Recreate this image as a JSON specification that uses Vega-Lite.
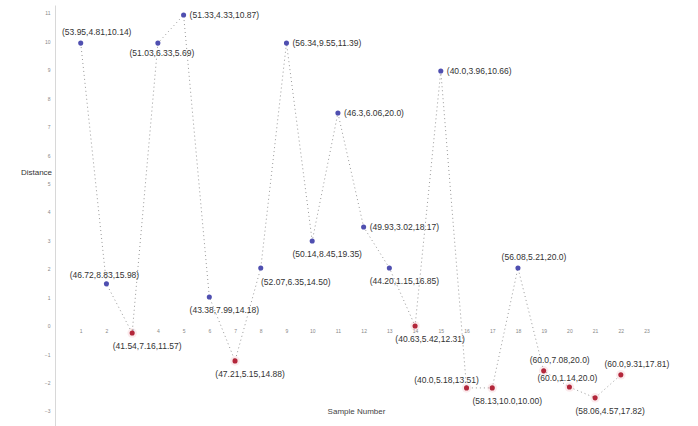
{
  "$schema": "https://vega.github.io/schema/vega-lite/v6.json",
  "autosize": {"type": "none"},
  "padding": {"left": 55, "top": 5, "right": 0, "bottom": 0},
  "width": 643,
  "height": 421,
  "background": "white",
  "config": {"view": {"stroke": null}, "font": "Liberation Sans"},
  "data": {"values": [
    {"sample": 1, "distance": 9.94, "label": "(53.95,4.81,10.14)", "group": "blue"},
    {"sample": 2, "distance": 1.47, "label": "(46.72,8.83,15.98)", "group": "blue"},
    {"sample": 3, "distance": -0.26, "label": "(41.54,7.16,11.57)", "group": "red"},
    {"sample": 4, "distance": 9.94, "label": "(51.03,6.33,5.69)", "group": "blue"},
    {"sample": 5, "distance": 10.93, "label": "(51.33,4.33,10.87)", "group": "blue"},
    {"sample": 6, "distance": 1.01, "label": "(43.38,7.99,14.18)", "group": "blue"},
    {"sample": 7, "distance": -1.24, "label": "(47.21,5.15,14.88)", "group": "red"},
    {"sample": 8, "distance": 2.03, "label": "(52.07,6.35,14.50)", "group": "blue"},
    {"sample": 9, "distance": 9.94, "label": "(56.34,9.55,11.39)", "group": "blue"},
    {"sample": 10, "distance": 2.98, "label": "(50.14,8.45,19.35)", "group": "blue"},
    {"sample": 11, "distance": 7.48, "label": "(46.3,6.06,20.0)", "group": "blue"},
    {"sample": 12, "distance": 3.47, "label": "(49.93,3.02,18.17)", "group": "blue"},
    {"sample": 13, "distance": 2.03, "label": "(44.20,1.15,16.85)", "group": "blue"},
    {"sample": 14, "distance": -0.01, "label": "(40.63,5.42,12.31)", "group": "red"},
    {"sample": 15, "distance": 8.96, "label": "(40.0,3.96,10.66)", "group": "blue"},
    {"sample": 16, "distance": -2.19, "label": "(40.0,5.18,13.51)", "group": "red"},
    {"sample": 17, "distance": -2.19, "label": "(58.13,10.0,10.00)", "group": "red"},
    {"sample": 18, "distance": 2.03, "label": "(56.08,5.21,20.0)", "group": "blue"},
    {"sample": 19, "distance": -1.59, "label": "(60.0,7.08,20.0)", "group": "red"},
    {"sample": 20, "distance": -2.16, "label": "(60.0,1.14,20.0)", "group": "red"},
    {"sample": 21, "distance": -2.54, "label": "(58.06,4.57,17.82)", "group": "red"},
    {"sample": 22, "distance": -1.73, "label": "(60.0,9.31,17.81)", "group": "red"}
  ]},
  "encoding": {
    "x": {
      "field": "sample", "type": "quantitative",
      "scale": {"domain": [0, 25], "nice": false, "zero": false},
      "axis": {
        "orient": "bottom", "offset": -100, "values": [1,2,3,4,5,6,7,8,9,10,11,12,13,14,15,16,17,18,19,20,21,22,23],
        "domain": false, "ticks": false, "grid": false,
        "labelFontSize": 5, "labelColor": "#888", "labelPadding": 2,
        "title": "Sample Number", "titleFontSize": 8, "titleFontWeight": "normal", "titleColor": "#444",
        "titleX": 301, "titleY": 85, "titleBaseline": "middle", "titleAlign": "center"
      }
    },
    "y": {
      "field": "distance", "type": "quantitative",
      "scale": {"domain": [-3.53, 11.28], "nice": false, "zero": false},
      "axis": {
        "values": [-3,-2,-1,0,1,2,3,4,5,6,7,8,9,10,11],
        "domain": true, "domainColor": "#d8d8d8", "ticks": false, "grid": false,
        "labelFontSize": 5, "labelColor": "#888", "labelPadding": 5,
        "title": "Distance", "titleAngle": 0, "titleX": -19, "titleY": 167,
        "titleAlign": "center", "titleBaseline": "middle",
        "titleFontSize": 8, "titleFontWeight": "normal", "titleColor": "#333"
      }
    }
  },
  "layer": [
    {"mark": {"type": "line", "color": "#999", "strokeWidth": 1, "strokeDash": [1, 3]}},
    {
      "transform": [{"filter": "datum.group === 'red'"}],
      "mark": {"type": "circle", "size": 90, "color": "#eeb0b8", "opacity": 0.25}
    },
    {
      "mark": {"type": "circle", "size": 26, "opacity": 1},
      "encoding": {
        "color": {"field": "group", "type": "nominal", "scale": {"domain": ["blue", "red"], "range": ["#4f4fb0", "#b3263a"]}, "legend": null}
      }
    },
    {
      "transform": [{"filter": {"field": "sample", "oneOf": [2, 20]}}],
      "mark": {"type": "text", "align": "center", "baseline": "middle", "dx": -2, "dy": -9, "fontSize": 8.5, "color": "#333"},
      "encoding": {"text": {"field": "label"}}
    },
    {
      "transform": [{"filter": {"field": "sample", "oneOf": [1, 18, 19, 22]}}],
      "mark": {"type": "text", "align": "center", "baseline": "middle", "dx": 16, "dy": -11, "fontSize": 8.5, "color": "#333"},
      "encoding": {"text": {"field": "label"}}
    },
    {
      "transform": [{"filter": {"field": "sample", "oneOf": [16]}}],
      "mark": {"type": "text", "align": "center", "baseline": "middle", "dx": -20, "dy": -8, "fontSize": 8.5, "color": "#333"},
      "encoding": {"text": {"field": "label"}}
    },
    {
      "transform": [{"filter": {"field": "sample", "oneOf": [3, 6, 7, 10, 13, 14, 17, 21]}}],
      "mark": {"type": "text", "align": "center", "baseline": "middle", "dx": 15, "dy": 13, "fontSize": 8.5, "color": "#333"},
      "encoding": {"text": {"field": "label"}}
    },
    {
      "transform": [{"filter": {"field": "sample", "oneOf": [4]}}],
      "mark": {"type": "text", "align": "center", "baseline": "middle", "dx": 4, "dy": 10, "fontSize": 8.5, "color": "#333"},
      "encoding": {"text": {"field": "label"}}
    },
    {
      "transform": [{"filter": {"field": "sample", "oneOf": [8]}}],
      "mark": {"type": "text", "align": "center", "baseline": "middle", "dx": 35, "dy": 14, "fontSize": 8.5, "color": "#333"},
      "encoding": {"text": {"field": "label"}}
    },
    {
      "transform": [{"filter": {"field": "sample", "oneOf": [5, 9, 11, 12, 15]}}],
      "mark": {"type": "text", "align": "left", "baseline": "middle", "dx": 6, "dy": 0, "fontSize": 8.5, "color": "#333"},
      "encoding": {"text": {"field": "label"}}
    }
  ]
}
